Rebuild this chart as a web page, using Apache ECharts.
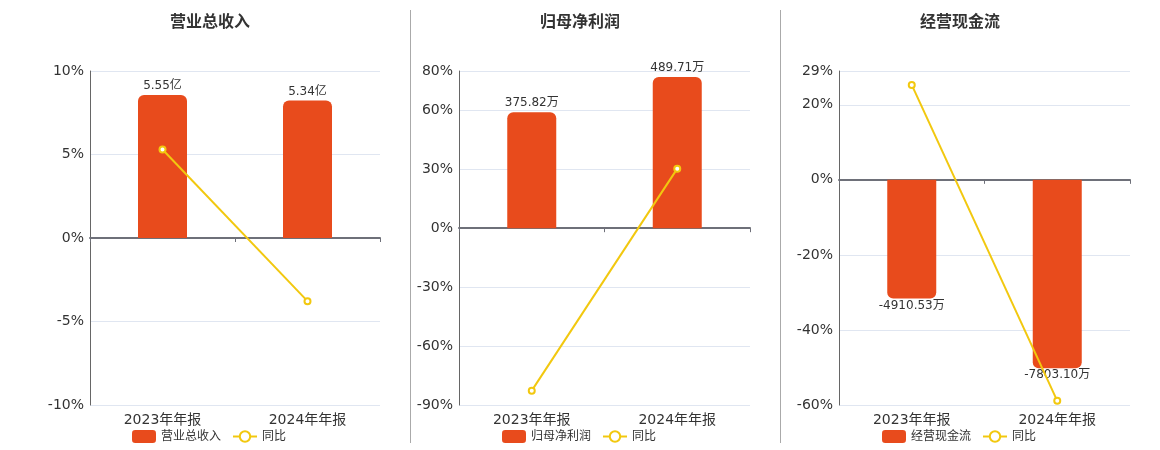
<!DOCTYPE html>
<html>
<head>
<meta charset="utf-8">
<script src="https://cdn.jsdelivr.net/npm/echarts@6/dist/echarts.min.js"></script>
<style>
html,body{margin:0;padding:0;background:#fff;}
#c{width:1160px;height:450px;}
</style>
</head>
<body>
<div id="c"></div>
<script>
// ---- data ----
const categories = ['2023年年报', '2024年年报'];
const titles = ['营业总收入', '归母净利润', '经营现金流'];
const revenueValues = [5.55, 5.34];          // 亿
const profitValues = [375.82, 489.71];       // 万
const cashflowValues = [-4910.53, -7803.10]; // 万
const revenueYoY = [5.3, -3.78];             // %
const profitYoY = [-82.7, 30.3];             // %
const cashflowYoY = [25.3, -58.9];           // %
const units = ['亿', '万', '万'];
const pctAxes = [
  {min: -10, max: 10, interval: 5},
  {min: -90, max: 80, interval: 30},
  {min: -60, max: 29, interval: 20}
];
const barAxes = [
  {min: -6.48, max: 6.48},
  {min: -573.2, max: 509.5},
  {min: -9320, max: 4505}
];

const FONT = '"DejaVu Sans", "Noto Sans CJK SC", sans-serif';
const BAR_COLOR = '#E84B1C';
const LINE_COLOR = '#F2C80F';

const barData = [revenueValues, profitValues, cashflowValues];
const yoyData = [revenueYoY, profitYoY, cashflowYoY];

const gridDefs = [
  {left: 90, right: 780, top: 71, bottom: 45},
  {left: 459, right: 410, top: 71, bottom: 45},
  {left: 839, right: 30, top: 71, bottom: 45}
];
const titleLefts = [170, 540, 920];
const legendLefts = [132, 502, 882];

const option = {
  animation: false,
  textStyle: {fontFamily: FONT},
  title: [], legend: [], grid: [], xAxis: [], yAxis: [], series: [],
  graphic: [
    {type: 'line', shape: {x1: 410.5, y1: 10, x2: 410.5, y2: 443}, style: {stroke: '#aaaaaa', lineWidth: 1}},
    {type: 'line', shape: {x1: 780.5, y1: 10, x2: 780.5, y2: 443}, style: {stroke: '#aaaaaa', lineWidth: 1}}
  ]
};

for (let i = 0; i < 3; i++) {
  option.title.push({
    text: titles[i], left: titleLefts[i], top: 15, padding: 0,
    textStyle: {fontSize: 16, fontWeight: 'bold', color: '#333', fontFamily: FONT}
  });
  option.legend.push({
    data: [{name: titles[i], icon: 'roundRect'}, {name: '同比'}],
    left: legendLefts[i], top: 430, padding: 0,
    itemWidth: 24, itemHeight: 13, itemGap: 11,
    textStyle: {fontSize: 12, color: '#333', fontFamily: FONT}
  });
  option.grid.push(gridDefs[i]);
  // axis at zero (line + ticks)
  option.xAxis.push({
    type: 'category', gridIndex: i, data: categories, position: 'bottom',
    axisLine: {show: true, onZero: true, onZeroAxisIndex: 2 * i, lineStyle: {color: '#6E7079', width: 2}},
    axisTick: {show: true, length: 4, lineStyle: {color: '#6E7079'}},
    axisLabel: {show: false}
  });
  // label axis at bottom
  option.xAxis.push({
    type: 'category', gridIndex: i, data: categories, position: 'bottom',
    axisLine: {show: false, onZero: false},
    axisTick: {show: false},
    axisLabel: {show: true, fontSize: 14, color: '#333', margin: 8, fontFamily: FONT}
  });
  option.yAxis.push({
    type: 'value', gridIndex: i, position: 'left',
    min: pctAxes[i].min, max: pctAxes[i].max, interval: pctAxes[i].interval,
    axisLine: {show: true, lineStyle: {color: '#666', width: 1}},
    axisTick: {show: false},
    axisLabel: {formatter: '{value}%', fontSize: 14, color: '#333', margin: 6, fontFamily: FONT},
    splitLine: {show: true, lineStyle: {color: '#E0E6F1'}}
  });
  option.yAxis.push({
    type: 'value', gridIndex: i, position: 'right', show: false,
    min: barAxes[i].min, max: barAxes[i].max,
    splitLine: {show: false}
  });
  const unit = units[i];
  const neg = barData[i][0] < 0;
  option.series.push({
    name: titles[i], type: 'bar', xAxisIndex: 2 * i, yAxisIndex: 2 * i + 1,
    barWidth: 49,
    itemStyle: {color: BAR_COLOR, borderRadius: neg ? [0, 0, 6, 6] : [6, 6, 0, 0]},
    label: {
      show: true, position: neg ? 'bottom' : 'top', distance: neg ? 1 : 3,
      fontSize: 12, color: '#333', fontFamily: FONT,
      formatter: p => p.value.toFixed(2) + unit
    },
    data: barData[i], z: 2
  });
  option.series.push({
    name: '同比', type: 'line', xAxisIndex: 2 * i, yAxisIndex: 2 * i,
    symbol: 'emptyCircle', symbolSize: 6,
    lineStyle: {color: LINE_COLOR, width: 2},
    itemStyle: {color: LINE_COLOR, borderWidth: 2},
    data: yoyData[i], z: 3
  });
}

const chart = echarts.init(document.getElementById('c'), null, {renderer: 'canvas'});
chart.setOption(option);
</script>
</body>
</html>
